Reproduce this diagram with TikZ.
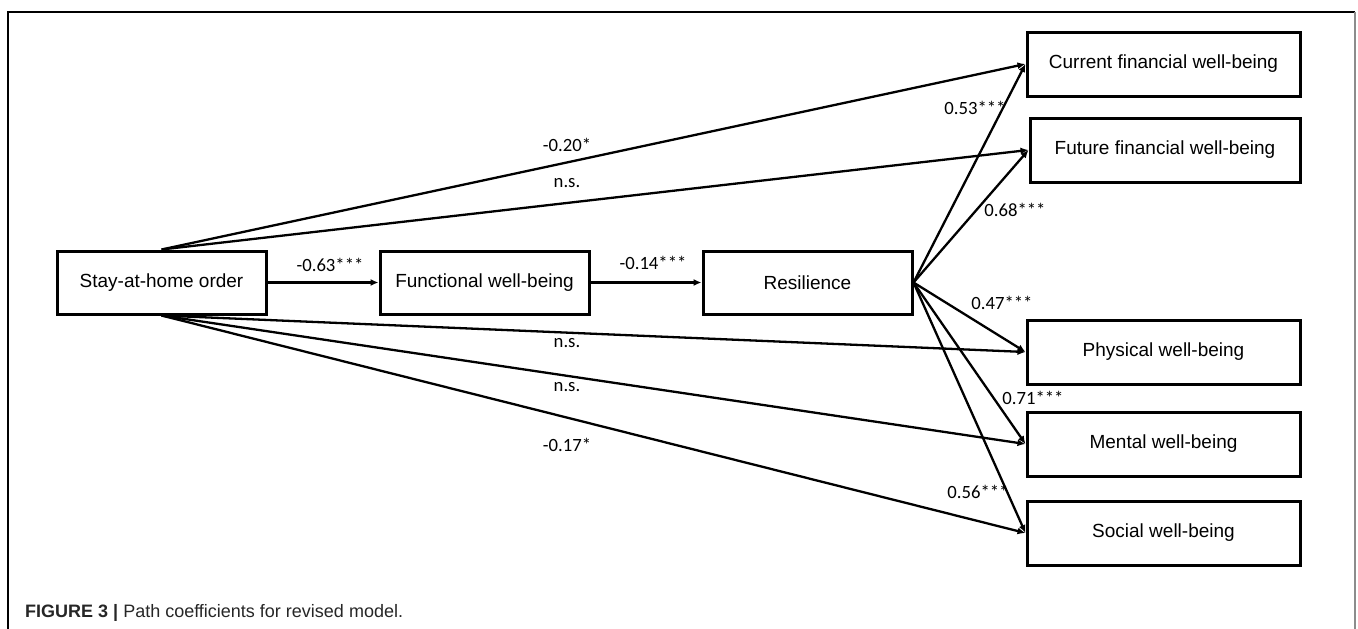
\documentclass[tikz,border=0pt]{standalone}
\usepackage{fontspec}
\setmainfont{Liberation Sans}
\newfontfamily\lblfont{Carlito}
\usetikzlibrary{arrows.meta}
\tikzset{
  varbox/.style={draw=black, line width=3pt, fill=white, inner sep=0pt,
    font=\fontsize{19}{22}\selectfont},
  midbox/.style={varbox, minimum width=209pt, minimum height=63pt},
  outbox/.style={varbox, minimum width=273pt, minimum height=64pt},
  path/.style={line width=2.3pt, -{Latex[length=8pt,width=7pt]}},
  coef/.style={inner sep=0pt, font=\lblfont\fontsize{18.7}{21}\selectfont},
}
\begin{document}
\begin{tikzpicture}[x=1pt,y=-1pt]
\useasboundingbox (0,0) rectangle (1358,629);
% frame
\draw[line width=1.3pt, black] (8,629) -- (8,12) -- (1355,12);
\draw[line width=1.5pt, black!45] (1355,12) -- (1355,629);
% boxes
\node[midbox] (stay) at (161.5,282.5) {Stay-at-home order};
\node[midbox] (func) at (484.5,282.5) {Functional well-being};
\node[midbox] (res)  at (807.5,282.5) {Resilience};
\node[outbox] (cur)  at (1163.5,64)  {Current financial well-being};
\node[outbox, minimum width=270pt] (fut) at (1165,150) {Future financial well-being};
\node[outbox] (phy)  at (1163.5,352) {Physical well-being};
\node[outbox] (men)  at (1163.5,444) {Mental well-being};
\node[outbox] (soc)  at (1163.5,533) {Social well-being};
% paths
\draw[path] (stay.east) -- (func.west);
\draw[path] (func.east) -- (res.west);
\draw[path] (stay.north) -- (cur.west);
\draw[path] (stay.north) -- (fut.west);
\draw[path] (stay.south) -- (phy.west);
\draw[path] (stay.south) -- (men.west);
\draw[path] (stay.south) -- (soc.west);
\draw[path] (res.east) -- (cur.west);
\draw[path] (res.east) -- (fut.west);
\draw[path] (res.east) -- (phy.west);
\draw[path] (res.east) -- (men.west);
\draw[path] (res.east) -- (soc.west);
% coefficients
\node[coef] (c1) at (330,265) {-0.63***};
\node[coef] (c2) at (653,263) {-0.14***};
\node[coef] (c3) at (567,145) {-0.20*};
\node[coef] (c4) at (567,183) {n.s.};
\node[coef] (c5) at (567,343) {n.s.};
\node[coef] (c6) at (567,387) {n.s.};
\node[coef] (c7) at (567,445) {-0.17*};
\node[coef] (c8) at (975,108) {0.53***};
\node[coef] (c9) at (1015,210) {0.68***};
\node[coef] (c10) at (1002,303) {0.47***};
\node[coef] (c11) at (1033,398) {0.71***};
\node[coef] (c12) at (978,492) {0.56***};
% caption
\node[anchor=west, inner sep=0pt, text=black!85, font=\fontsize{18}{21}\selectfont] (cap) at (25,613)
  {\textbf{FIGURE 3 |} Path coefficients for revised model.};
\end{tikzpicture}
\end{document}
